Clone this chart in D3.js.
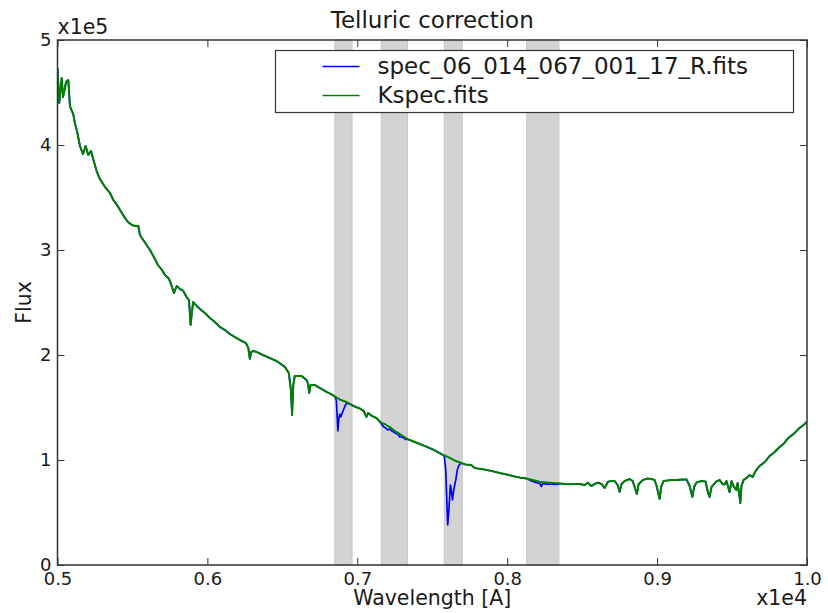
<!DOCTYPE html>
<html>
<head>
<meta charset="utf-8">
<script src="https://cdn.jsdelivr.net/npm/d3@7"></script>
<style>
  body { margin: 0; background: #fff; }
  text { font-family: "DejaVu Sans", sans-serif; fill: #1a1a1a; }
</style>
</head>
<body>
<div id="chart"></div>
<script>
// corrected spectrum (Kspec.fits): wavelength [A], flux
const kWave = [5000,5012,5028,5037,5047,5057,5072,5083,5093,5105,5117,5130,5150,5170,5188,5205,5223,5240,5261,5283,
  5317,5350,5372,5397,5417,5450,5470,5497,5517,5539,5550,5572,5590,5617,5643,5670,5697,5717,5739,5750,
  5777,5795,5817,5839,5861,5877,5888,5897,5905,5923,5950,5983,6017,6050,6083,6117,6150,6183,6217,6257,
  6273,6283,6293,6305,6328,6370,6417,6461,6490,6517,6543,6557,6565,6573,6583,6628,6661,6672,6679,6688,
  6717,6739,6763,6795,6823,6857,6890,6928,6961,6990,7017,7043,7061,7072,7097,7128,7161,7183,7217,7250,
  7283,7328,7350,7383,7417,7461,7497,7537,7572,7603,7630,7657,7695,7723,7761,7783,7803,7830,7861,7897,
  7950,7997,8050,8083,8128,8170,8217,8263,8303,8350,8390,8417,8450,8483,8517,8539,8561,8583,8605,8630,
  8650,8672,8697,8717,8737,8750,8763,8783,8817,8837,8850,8865,8877,8905,8937,8963,8983,8997,9017,9027,
  9043,9070,9103,9130,9163,9197,9217,9235,9247,9263,9297,9323,9340,9350,9363,9395,9417,9437,9450,9463,
  9483,9497,9510,9528,9537,9550,9555,9563,9577,9597,9617,9637,9657,9683,9710,9730,9750,9777,9797,9817,
  9843,9863,9883,9910,9930,9950,9977,9997];
const kFlux = [473300,440000,463800,445700,452400,460000,461900,437100,433300,429500,420000,413300,399000,391400,399000,390500,394300,385700,375200,367600,
  360000,354300,347600,342900,338100,330500,326700,323800,322900,322900,314300,309500,305700,300000,293300,285700,281000,276200,273300,270500,
  259000,265700,262900,261000,255200,252400,228600,241000,250500,247600,243800,240000,235200,231400,226700,223800,220000,217100,214300,211400,
  206700,196200,202900,203800,202900,200000,197100,194300,191400,188600,182900,166700,142900,171400,180000,180000,176200,172400,163800,171400,
  171400,169500,167600,164800,162900,160000,157100,155200,152400,150500,149000,146700,141000,144800,141900,140000,135200,134300,131400,127600,
  124800,120500,119000,117100,115200,112700,110500,107600,104800,102900,101000,99000,97100,95700,95200,92400,91900,91400,90500,89500,
  87600,86200,84300,83300,82400,81000,79300,78600,78100,77600,77100,76900,77100,77100,76200,78400,75200,77100,78400,77100,
  73300,79300,80000,80000,76200,69800,77100,80000,81900,80000,74300,67600,77100,81000,82400,81900,81000,75200,62900,74300,
  80000,80500,81000,81000,81400,81400,75200,64800,74300,78600,80000,79500,68600,64800,74300,79500,81000,77100,76700,80000,
  69500,80000,75200,71400,78100,64800,59000,75200,81000,82900,85700,83800,89500,94300,97100,100000,103800,106700,109500,112400,
  115200,119000,121900,124800,127600,130500,133300,136200];

// observed spectrum inside the telluric bands (elsewhere same as Kspec)
const specWave = [6850,6860,6867,6870,6877,6883,6890,6897,6910,6923,6937,6950,6963,
  7161,7177,7190,7203,7217,7230,7243,7257,7270,7283,7297,7310,7323,7330,
  7580,7590,7597,7603,7610,7617,7621,7627,7635,7643,7657,7667,7679,7690,7700,
  8137,8163,8190,8217,8228,8237,8263,8283,8303,8323,8343];
const specFlux = [160500,157100,138100,127600,140000,143800,141000,143800,148600,153000,154000,153500,152400,
  134300,131400,130500,128600,129500,127600,126700,125200,124800,121900,121900,121000,119500,120000,
  103800,90500,61900,38100,50500,66700,76200,71400,61900,71400,81000,90500,95200,96700,96700,
  81900,80000,78600,77600,74800,77600,77100,77100,77100,76700,77100];

// telluric bands [A]
const bandLo = [6850, 7160, 7580, 8130];
const bandHi = [6965, 7335, 7700, 8345];

const xTicks = [5000, 6000, 7000, 8000, 9000, 10000];
const yTicks = [0, 100000, 200000, 300000, 400000, 500000];
const seriesNames = ["spec_06_014_067_001_17_R.fits", "Kspec.fits"];

const W = 828, H = 613;
const plot = {left: 57.5, right: 807, top: 40, bottom: 565};

const svg = d3.select("#chart").append("svg")
  .attr("width", W).attr("height", H);

const x = d3.scaleLinear().domain([5000, 10000]).range([plot.left, plot.right]);
const y = d3.scaleLinear().domain([0, 500000]).range([plot.bottom, plot.top]);

svg.append("clipPath").attr("id", "clip")
  .append("rect")
    .attr("x", plot.left).attr("y", plot.top)
    .attr("width", plot.right - plot.left).attr("height", plot.bottom - plot.top);

// grey bands
svg.append("g").selectAll("rect")
  .data(bandLo.map((lo, i) => [lo, bandHi[i]]))
  .enter().append("rect")
    .attr("x", d => x(d[0]))
    .attr("width", d => x(d[1]) - x(d[0]))
    .attr("y", plot.top)
    .attr("height", plot.bottom - plot.top)
    .attr("fill", "#d3d3d3")
    .attr("stroke", "#c8c8c8")
    .attr("stroke-width", 1);

// build series
const kData = kWave.map((w, i) => [w, kFlux[i]]);
const inBand = w => bandLo.some((lo, i) => w >= lo && w <= bandHi[i]);
const specData = kData.filter(d => !inBand(d[0]))
  .concat(specWave.map((w, i) => [w, specFlux[i]]))
  .sort((a, b) => a[0] - b[0]);

const line = d3.line()
  .x(d => x(d[0]))
  .y(d => y(d[1]));

const lines = svg.append("g").attr("clip-path", "url(#clip)");
lines.append("path")
  .datum(specData)
  .attr("d", line)
  .attr("fill", "none")
  .attr("stroke", "#0000ff")
  .attr("stroke-width", 1.7)
  .attr("stroke-linejoin", "round");
lines.append("path")
  .datum(kData)
  .attr("d", line)
  .attr("fill", "none")
  .attr("stroke", "#008000")
  .attr("stroke-width", 2)
  .attr("stroke-linejoin", "round");

// axes, ticks inside on all four sides
const fmtX = d => (d / 10000).toFixed(1);
const fmtY = d => d3.format("d")(d / 100000);

const gx = svg.append("g")
  .attr("transform", `translate(0,${plot.bottom})`)
  .call(d3.axisBottom(x).tickValues(xTicks).tickFormat(fmtX).tickSizeInner(-7).tickSizeOuter(0).tickPadding(7));
const gy = svg.append("g")
  .attr("transform", `translate(${plot.left},0)`)
  .call(d3.axisLeft(y).tickValues(yTicks).tickFormat(fmtY).tickSizeInner(-7).tickSizeOuter(0).tickPadding(6));
const gt = svg.append("g")
  .attr("transform", `translate(0,${plot.top})`)
  .call(d3.axisTop(x).tickValues(xTicks).tickFormat("").tickSizeInner(-7).tickSizeOuter(0));
const gr = svg.append("g")
  .attr("transform", `translate(${plot.right},0)`)
  .call(d3.axisRight(y).tickValues(yTicks).tickFormat("").tickSizeInner(-7).tickSizeOuter(0));

[gx, gy, gt, gr].forEach(g => {
  g.select(".domain").remove();
  g.selectAll(".tick line").attr("stroke", "#333").attr("stroke-width", 1);
  g.selectAll("text").style("font-size", "18px").attr("fill", "#1a1a1a")
    .style("font-family", "DejaVu Sans");
});

svg.append("rect")
  .attr("x", plot.left).attr("y", plot.top)
  .attr("width", plot.right - plot.left).attr("height", plot.bottom - plot.top)
  .attr("fill", "none")
  .attr("stroke", "#333")
  .attr("stroke-width", 1.5);

// offset labels
svg.append("text")
  .attr("x", plot.left).attr("y", 34)
  .style("font-size", "20.5px")
  .text("x1e5");
svg.append("text")
  .attr("x", plot.right).attr("y", 605)
  .attr("text-anchor", "end")
  .style("font-size", "20.5px")
  .text("x1e4");

// title and axis labels
svg.append("text")
  .attr("x", (plot.left + plot.right) / 2).attr("y", 28)
  .attr("text-anchor", "middle")
  .style("font-size", "23px")
  .text("Telluric correction");
svg.append("text")
  .attr("x", (plot.left + plot.right) / 2).attr("y", 605)
  .attr("text-anchor", "middle")
  .style("font-size", "20.5px")
  .text("Wavelength [A]");
svg.append("text")
  .attr("transform", `translate(31,${(plot.top + plot.bottom) / 2}) rotate(-90)`)
  .attr("text-anchor", "middle")
  .style("font-size", "20.5px")
  .text("Flux");

// legend
const legend = svg.append("g").attr("transform", "translate(275.5,50.5)");
legend.append("rect")
  .attr("width", 518).attr("height", 62)
  .attr("fill", "#fff")
  .attr("stroke", "#333")
  .attr("stroke-width", 1.2);
const colors = ["#0000ff", "#008000"];
const item = legend.selectAll(".item")
  .data(seriesNames)
  .enter().append("g")
    .attr("transform", (d, i) => `translate(0,${16 + i * 29})`);
item.append("line")
  .attr("x1", 47).attr("x2", 84)
  .attr("stroke", (d, i) => colors[i])
  .attr("stroke-width", 1.7);
item.append("text")
  .attr("x", 102).attr("y", 7.5)
  .style("font-size", "23px")
  .text(d => d);
</script>
</body>
</html>
